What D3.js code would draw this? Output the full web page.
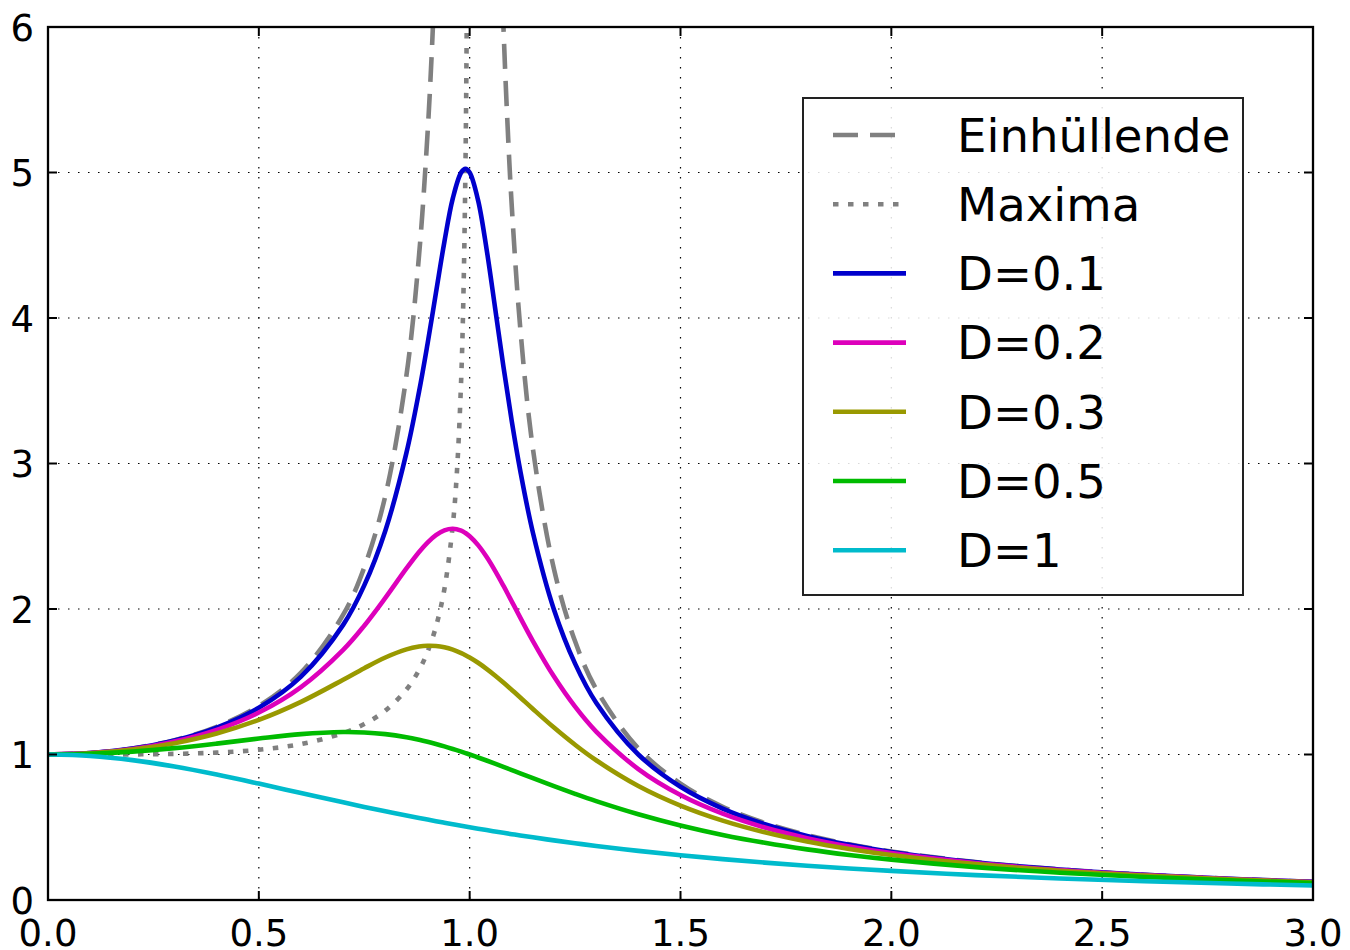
<!DOCTYPE html>
<html>
<head>
<meta charset="utf-8">
<script src="https://cdn.jsdelivr.net/npm/d3@7"></script>
<style>
html,body{margin:0;padding:0;background:#fff;}
svg{display:block;}
text{font-family:"DejaVu Sans",sans-serif;fill:#000;}
</style>
</head>
<body>
<svg id="chart" width="1350" height="950"></svg>
<script>
// ---- data ----
const xTicks = [0.0, 0.5, 1.0, 1.5, 2.0, 2.5, 3.0];
const xTickLabels = ["0.0", "0.5", "1.0", "1.5", "2.0", "2.5", "3.0"];
const yTicks = [0, 1, 2, 3, 4, 5, 6];
const yTickLabels = ["0", "1", "2", "3", "4", "5", "6"];

const seriesNames = ["Einhüllende", "Maxima", "D=0.1", "D=0.2", "D=0.3", "D=0.5", "D=1"];
const seriesColors = ["#808080", "#808080", "#0000cc", "#dd00bb", "#999900", "#00bb00", "#00bbcc"];

const eta = [0, 0.1, 0.2, 0.3, 0.4, 0.5, 0.6, 0.7, 0.75, 0.8, 0.85, 0.88, 0.9, 0.92, 0.94, 0.96, 0.98, 0.99,
  1.0, 1.02, 1.04, 1.06, 1.08, 1.1, 1.12, 1.15, 1.2, 1.25, 1.3, 1.4, 1.5, 1.6, 1.7, 1.8, 1.9, 2.0,
  2.2, 2.4, 2.6, 2.8, 3.0];

const d01 = [1, 1.0099, 1.0408, 1.0965, 1.1851, 1.3216, 1.5357, 1.8908, 2.1622, 2.5384, 3.0728, 3.4949, 3.8208, 4.1722, 4.5225, 4.8218, 5.0010, 5.0252,
  5.0000, 4.8086, 4.4756, 4.0750, 3.6675, 3.2880, 2.9502, 2.5245, 1.9952, 1.6246, 1.3562, 1.0000, 0.7779, 0.6280, 0.5207, 0.4408, 0.3791, 0.3304,
  0.2587, 0.2090, 0.1729, 0.1457, 0.1247];

const d02 = [1, 1.0093, 1.0381, 1.0895, 1.1695, 1.2883, 1.4630, 1.7188, 1.8851, 2.0761, 2.2786, 2.3918, 2.4566, 2.5077, 2.5406, 2.5515, 2.5381, 2.5221,
  2.5000, 2.4391, 2.3589, 2.2642, 2.1601, 2.0511, 1.9410, 1.7800, 1.5357, 1.3287, 1.1574, 0.8998, 0.7212, 0.5931, 0.4979, 0.4250, 0.3679, 0.3221,
  0.2538, 0.2059, 0.1709, 0.1443, 0.1236];

const d03 = [1, 1.0083, 1.0336, 1.0780, 1.1447, 1.2380, 1.3618, 1.5136, 1.5933, 1.6667, 1.7223, 1.7416, 1.7469, 1.7453, 1.7365, 1.7203, 1.6968, 1.6826,
  1.6667, 1.6304, 1.5890, 1.5435, 1.4947, 1.4438, 1.3917, 1.3129, 1.1851, 1.0667, 0.9603, 0.7839, 0.6492, 0.5459, 0.4656, 0.4021, 0.3511, 0.3095,
  0.2463, 0.2011, 0.1676, 0.1420, 0.1220];

const d05 = [1, 1.0050, 1.0198, 1.0437, 1.0748, 1.1094, 1.1399, 1.1546, 1.1517, 1.1399, 1.1184, 1.1008, 1.0872, 1.0721, 1.0558, 1.0382, 1.0196, 1.0099,
  1.0000, 0.9796, 0.9586, 0.9371, 0.9151, 0.8930, 0.8707, 0.8373, 0.7824, 0.7295, 0.6795, 0.5891, 0.5122, 0.4475, 0.3934, 0.3480, 0.3098, 0.2774,
  0.2260, 0.1876, 0.1582, 0.1353, 0.1170];

const d1 = [1, 0.9901, 0.9615, 0.9174, 0.8621, 0.8000, 0.7353, 0.6711, 0.6400, 0.6098, 0.5806, 0.5636, 0.5525, 0.5416, 0.5309, 0.5204, 0.5101, 0.5050,
  0.5000, 0.4901, 0.4804, 0.4709, 0.4616, 0.4525, 0.4436, 0.4306, 0.4098, 0.3902, 0.3717, 0.3378, 0.3077, 0.2809, 0.2571, 0.2358, 0.2169, 0.2000,
  0.1712, 0.1479, 0.1289, 0.1131, 0.1000];

const envLeftX = [0, 0.1, 0.2, 0.3, 0.4, 0.5, 0.6, 0.7, 0.75, 0.8, 0.85, 0.88, 0.9, 0.91, 0.92];
const envLeftY = [1, 1.0101, 1.0417, 1.0989, 1.1905, 1.3333, 1.5625, 1.9608, 2.2857, 2.7778, 3.6036, 4.4326, 5.2632, 5.8173, 6.5104];
const envRightX = [1.07, 1.08, 1.09, 1.1, 1.12, 1.15, 1.2, 1.25, 1.3, 1.4, 1.5, 1.6, 1.7, 1.8, 1.9, 2.0, 2.2, 2.4, 2.6, 2.8, 3.0];
const envRightY = [6.9013, 6.0096, 5.3163, 4.7619, 3.9308, 3.1008, 2.2727, 1.7778, 1.4493, 1.0417, 0.8000, 0.6410, 0.5291, 0.4464, 0.3831, 0.3333, 0.2604, 0.2101, 0.1736, 0.1462, 0.1250];

const maxX = [0, 0.1, 0.2, 0.3, 0.4, 0.5, 0.6, 0.7, 0.75, 0.8, 0.85, 0.88, 0.9, 0.92, 0.94, 0.96, 0.97, 0.98, 0.985, 0.99, 0.993, 0.995];
const maxY = [1, 1.0001, 1.0008, 1.0041, 1.0131, 1.0328, 1.0719, 1.1472, 1.2095, 1.3015, 1.4464, 1.5805, 1.7052, 1.8778, 2.1357, 2.5763, 2.9526, 3.5891, 4.1288, 5.0377, 6.0077, 7.0977];

// ---- layout ----
const svg = d3.select("#chart");
const L = 48, R = 1313, T = 27, B = 900;
const LW = 4.6;
const x = d3.scaleLinear().domain([0, 3]).range([L, R]);
const y = d3.scaleLinear().domain([0, 6]).range([B, T]);

svg.append("defs").append("clipPath").attr("id", "plotclip")
  .append("rect").attr("x", L).attr("y", T).attr("width", R - L).attr("height", B - T);

// grid
const grid = svg.append("g");
xTicks.filter(v => v > 0 && v < 3).forEach(v => {
  grid.append("line").attr("x1", x(v)).attr("x2", x(v)).attr("y1", T).attr("y2", B)
    .attr("stroke", "#000").attr("stroke-width", 1.2).attr("stroke-dasharray", "1.5,8.5");
});
yTicks.filter(v => v > 0 && v < 6).forEach(v => {
  grid.append("line").attr("x1", L).attr("x2", R).attr("y1", y(v)).attr("y2", y(v))
    .attr("stroke", "#000").attr("stroke-width", 1.2).attr("stroke-dasharray", "1.5,8.5");
});

// curves
const line = d3.line().x(d => x(d[0])).y(d => y(d[1])).curve(d3.curveCatmullRom.alpha(0.5));
const plot = svg.append("g").attr("clip-path", "url(#plotclip)");
const zip = (xs, ys) => xs.map((v, i) => [v, ys[i]]);

[[envLeftX, envLeftY], [envRightX, envRightY]].forEach(([xs, ys]) => {
  plot.append("path").attr("d", line(zip(xs, ys))).attr("fill", "none")
    .attr("stroke", seriesColors[0]).attr("stroke-width", LW).attr("stroke-dasharray", "25,12");
});
plot.append("path").attr("d", line(zip(maxX, maxY))).attr("fill", "none")
  .attr("stroke", seriesColors[1]).attr("stroke-width", LW).attr("stroke-dasharray", "5.5,9.5");

[d01, d02, d03, d05, d1].forEach((ys, i) => {
  plot.append("path").attr("d", line(zip(eta, ys))).attr("fill", "none")
    .attr("stroke", seriesColors[i + 2]).attr("stroke-width", LW).attr("stroke-linejoin", "round");
});

// frame
svg.append("rect").attr("x", L).attr("y", T).attr("width", R - L).attr("height", B - T)
  .attr("fill", "none").attr("stroke", "#000").attr("stroke-width", 2.3);

// ticks (inward, all four sides)
const tk = svg.append("g").attr("stroke", "#000").attr("stroke-width", 2);
xTicks.forEach(v => {
  tk.append("line").attr("x1", x(v)).attr("x2", x(v)).attr("y1", B).attr("y2", B - 9);
  tk.append("line").attr("x1", x(v)).attr("x2", x(v)).attr("y1", T).attr("y2", T + 9);
});
yTicks.forEach(v => {
  tk.append("line").attr("x1", L).attr("x2", L + 9).attr("y1", y(v)).attr("y2", y(v));
  tk.append("line").attr("x1", R).attr("x2", R - 9).attr("y1", y(v)).attr("y2", y(v));
});

// tick labels
xTicks.forEach((v, i) => {
  svg.append("text").attr("x", x(v)).attr("y", 946).attr("text-anchor", "middle")
    .attr("font-size", 37).text(xTickLabels[i]);
});
yTicks.forEach((v, i) => {
  svg.append("text").attr("x", 34).attr("y", y(v) + 13.5).attr("text-anchor", "end")
    .attr("font-size", 37).text(yTickLabels[i]);
});

// legend
const lg = svg.append("g");
lg.append("rect").attr("x", 803).attr("y", 98).attr("width", 440).attr("height", 497)
  .attr("fill", "#fff").attr("fill-opacity", 0.85).attr("stroke", "#222").attr("stroke-width", 2);
const dashes = ["25,12", "5.5,9.5", null, null, null, null, null];
seriesNames.forEach((name, i) => {
  const cy = 135 + i * 69.2;
  const ln = lg.append("line").attr("x1", 833).attr("x2", 906).attr("y1", cy).attr("y2", cy)
    .attr("stroke", seriesColors[i]).attr("stroke-width", LW);
  if (dashes[i]) ln.attr("stroke-dasharray", dashes[i]);
  lg.append("text").attr("x", 957).attr("y", cy + 16.8).attr("font-size", 46.6).text(name);
});
</script>
</body>
</html>
